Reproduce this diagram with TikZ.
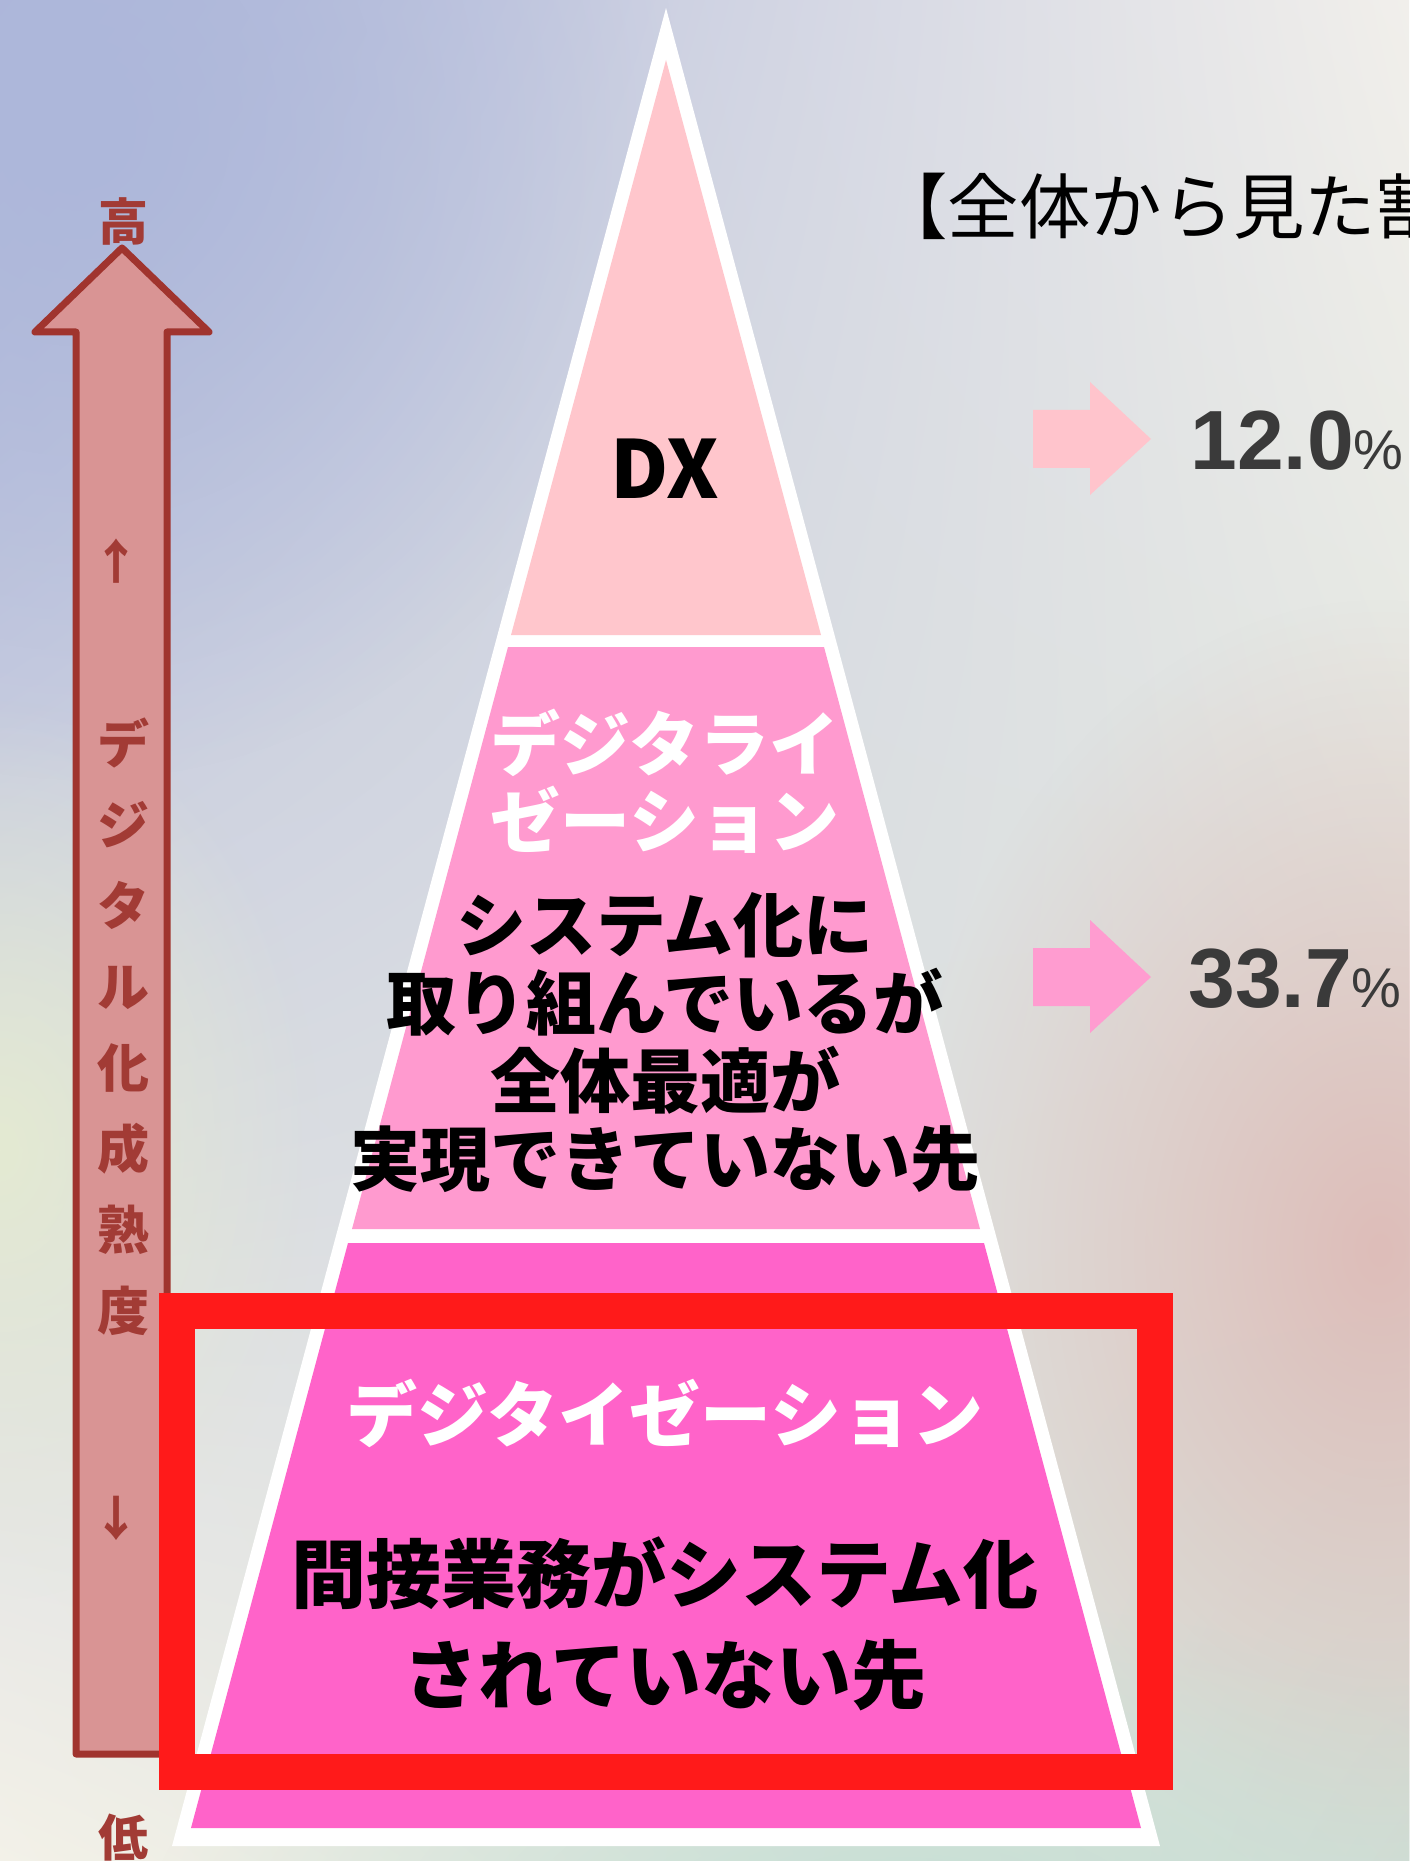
\documentclass[tikz,border=0pt]{standalone}
\usepackage{fontspec}
\newfontfamily\jp{Noto Sans CJK JP}
\newfontfamily\lib{Liberation Sans}
\usetikzlibrary{fadings,shadings}
\tikzfading[name=blobfade, inner color=transparent!0, outer color=transparent!100]
\definecolor{bgUL}{HTML}{ADB6DA}
\definecolor{bgUR}{HTML}{F1EFEB}
\definecolor{bgLL}{HTML}{F3F1E8}
\definecolor{bgLR}{HTML}{D4DED6}
\definecolor{bgPink}{HTML}{DDBDB9}
\definecolor{bgGreen}{HTML}{C6DFD5}
\definecolor{bgBlue}{HTML}{ADB7DA}
\definecolor{bgYel}{HTML}{E4EAD2}
\definecolor{dxc}{HTML}{FFC6CC}
\definecolor{midc}{HTML}{FF9ACF}
\definecolor{botc}{HTML}{FF63C9}
\definecolor{arrowfill}{HTML}{D99494}
\definecolor{arrowborder}{HTML}{A0342E}
\definecolor{arrowtext}{HTML}{A23B35}
\definecolor{redc}{HTML}{FF1A1A}
\definecolor{pctgray}{HTML}{3A3A3A}
\definecolor{arrA}{HTML}{FFC4CC}
\definecolor{arrB}{HTML}{FF9CD0}
\begin{document}
\begin{tikzpicture}[x=0.5pt,y=-0.5pt,
  layertext/.style={inner sep=0pt, align=center},
  whitetext/.style={layertext, text=white, font=\jp\bfseries\fontsize{35}{38.5}\selectfont},
  blacktext/.style={layertext, text=black, font=\jp\bfseries\fontsize{35}{39}\selectfont},
  scaletext/.style={inner sep=0pt, text=arrowtext, font=\jp\bfseries\fontsize{25}{25}\selectfont},
  pct/.style={anchor=base west, inner sep=0pt, text=pctgray, font=\lib\bfseries\fontsize{42}{42}\selectfont}
]
\useasboundingbox (0,0) rectangle (1409,1861);
% background
\shade[upper left=bgUL, upper right=bgUR, lower left=bgLL, lower right=bgLR] (0,0) rectangle (1409,1861);
\fill[bgBlue, path fading=blobfade] (80,130) ellipse (600 and 650);
\fill[bgPink, path fading=blobfade] (1380,1250) ellipse (480 and 650);
\fill[bgGreen, path fading=blobfade] (900,1920) ellipse (750 and 320);
\fill[bgYel, path fading=blobfade] (0,1150) ellipse (320 and 450);
% pyramid
\fill[white] (666,8) -- (1160,1846) -- (172,1846) -- cycle;
\fill[dxc] (666,60) -- (821,635) -- (511,635) -- cycle;
\fill[midc] (508,647) -- (824,647) -- (980,1229) -- (352,1229) -- cycle;
\fill[botc] (348,1243) -- (984,1243) -- (1141,1828) -- (191,1828) -- cycle;
% left maturity arrow
\draw[line width=3.5pt, draw=arrowborder, fill=arrowfill, line join=round]
  (76,1754) -- (76,332) -- (35,332) -- (122,248) -- (209,332) -- (167,332) -- (167,1754) -- cycle;
\node[scaletext] (high) at (123,221) {高};
\node[scaletext] (low) at (123,1838) {低};
\node[scaletext, font=\jp\bfseries\fontsize{24}{24}\selectfont] (up) at (116,561) {↑};
\node[scaletext, font=\jp\bfseries\fontsize{24}{24}\selectfont] (down) at (116,1518) {↓};
\node[scaletext, align=center, font=\jp\bfseries\fontsize{26}{40.5}\selectfont] (axis) at (123,1027)
  {デ\\ジ\\タ\\ル\\化\\成\\熟\\度};
% layer texts
\node[layertext, font=\jp\bfseries\fontsize{40}{40}\selectfont] (dx) at (665,469) {DX};
\node[whitetext] (dgl) at (665,781) {デジタライ\\ゼーション};
\node[blacktext] (dglt) at (665,1043) {システム化に\\取り組んでいるが\\全体最適が\\実現できていない先};
\node[whitetext, font=\jp\bfseries\fontsize{35.5}{35.5}\selectfont] (dgt) at (665,1413) {デジタイゼーション};
\node[blacktext, font=\jp\bfseries\fontsize{37.5}{50.5}\selectfont] (dgtt) at (665,1624) {間接業務がシステム化\\されていない先};
% title
\node[anchor=base west, inner sep=0pt, font=\jp\fontsize{35.7}{35.7}\selectfont] (title) at (876,234) {【全体から見た割合】};
% block arrows and percentages
\fill[arrA] (1033,410) -- (1090,410) -- (1090,382) -- (1151,439) -- (1090,495) -- (1090,468) -- (1033,468) -- cycle;
\fill[arrB] (1033,948) -- (1090,948) -- (1090,920) -- (1151,977) -- (1090,1033) -- (1090,1006) -- (1033,1006) -- cycle;
\node[pct] (p1) at (1190,470) {12.0{\mdseries\fontsize{28}{28}\selectfont\%}};
\node[pct] (p2) at (1188,1007) {33.7{\mdseries\fontsize{28}{28}\selectfont\%}};
% highlight
\draw[line width=18pt, redc] (177,1311) rectangle (1155,1772);
\end{tikzpicture}
\end{document}
